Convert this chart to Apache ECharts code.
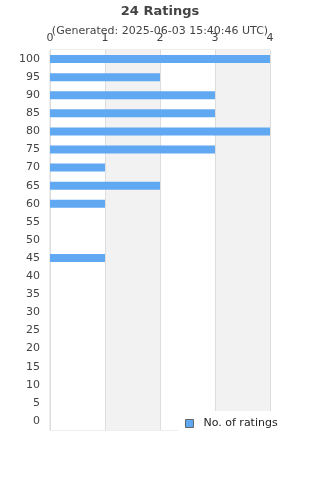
<!DOCTYPE html>
<html>
<head>
  <meta charset="utf-8">
  <style>
    html, body { margin: 0; padding: 0; width: 100%; height: 100%; overflow: hidden; background: #fff; }
  </style>
  <script src="https://cdn.jsdelivr.net/npm/echarts@6/dist/echarts.min.js"></script>
</head>
<body>
  <div id="container" style="width: 320px; height: 480px;"></div>
  <script>
    // rating buckets, bottom to top
    const categories = ['0', '5', '10', '15', '20', '25', '30', '35', '40', '45', '50',
      '55', '60', '65', '70', '75', '80', '85', '90', '95', '100'];
    const counts = [0, 0, 0, 0, 0, 0, 0, 0, 0, 1, 0, 0, 1, 2, 1, 3, 4, 3, 3, 2, 4];
    const titleText = '24 Ratings';
    const subText = '(Generated: 2025-06-03 15:40:46 UTC)';
    const seriesName = 'No. of ratings';

    const chart = echarts.init(document.getElementById('container'), null, { renderer: 'canvas' });

    const option = {
      animation: false,
      textStyle: { fontFamily: 'DejaVu Sans' },
      title: {
        text: titleText,
        subtext: subText,
        left: 'center',
        top: 0,
        itemGap: 8,
        textStyle: { fontSize: 13, fontWeight: 'bold', color: '#444', fontFamily: 'DejaVu Sans' },
        subtextStyle: { fontSize: 11, color: '#444', fontFamily: 'DejaVu Sans' }
      },
      grid: {
        left: 50, right: 50, top: 50, bottom: 50,
        show: true, borderColor: '#ddd', borderWidth: 1, backgroundColor: 'transparent'
      },
      legend: {
        data: [seriesName],
        left: 178,
        top: 411,
        padding: [7, 40, 10, 7],
        backgroundColor: '#fff',
        itemWidth: 8,
        itemHeight: 8,
        icon: 'rect',
        itemStyle: { borderColor: '#666', borderWidth: 1 },
        textStyle: { fontSize: 11, color: '#222', padding: [0, 0, 0, 5], fontFamily: 'DejaVu Sans' }
      },
      xAxis: {
        type: 'value',
        position: 'top',
        min: 0, max: 4, interval: 1,
        axisLine: { show: false },
        axisTick: { show: false },
        axisLabel: { color: '#444', fontSize: 11, margin: 6 },
        splitLine: { show: true, lineStyle: { color: '#ddd' } },
        splitArea: { show: true, areaStyle: { color: ['#fff', '#f2f2f2'] } }
      },
      yAxis: {
        type: 'category',
        data: categories,
        axisLine: { show: true, lineStyle: { color: '#ddd' } },
        axisTick: { show: false },
        axisLabel: { color: '#444', fontSize: 11, margin: 10 }
      },
      series: [{
        name: seriesName,
        type: 'bar',
        data: counts,
        barWidth: 8,
        itemStyle: { color: '#60a8f2' }
      }]
    };

    chart.setOption(option);
  </script>
</body>
</html>
